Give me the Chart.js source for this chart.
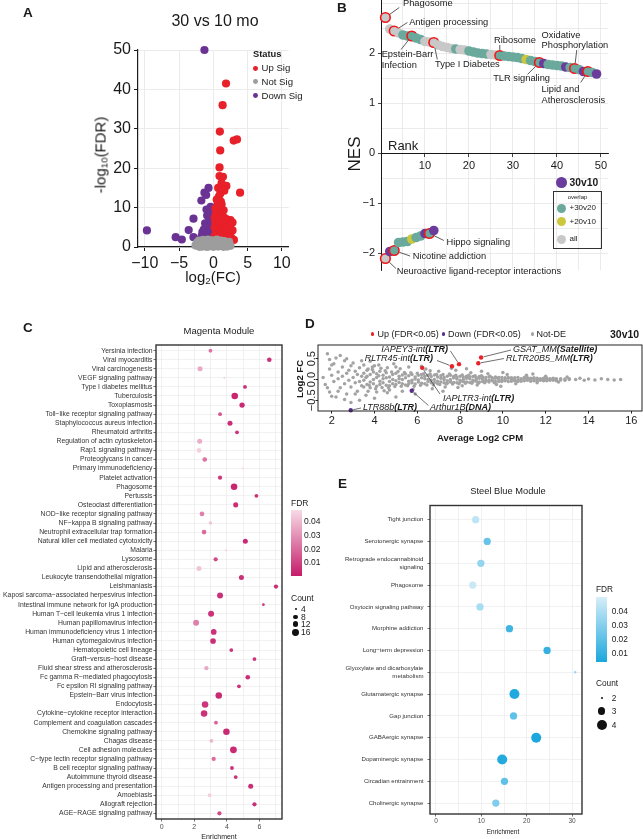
<!DOCTYPE html>
<html>
<head>
<meta charset="utf-8">
<title>Aging transcriptome figure</title>
<script src="https://cdn.jsdelivr.net/npm/chart.js@4.4.1/dist/chart.umd.min.js"></script>
<style>
  html, body { margin: 0; padding: 0; background: #fff; }
  #page { position: relative; width: 643px; height: 839px; overflow: hidden;
          font-family: "Liberation Sans", Arial, Helvetica, sans-serif; color: #1a1a1a; }
  #page canvas { position: absolute; left: 0; top: 0; }
  .txt { position: absolute; white-space: nowrap; line-height: 1; }
  .txt sub { font-size: 65%; vertical-align: -0.25em; line-height: 0; }
  .dot { position: absolute; border-radius: 50%; }
  .box { position: absolute; box-sizing: border-box; }
</style>
</head>
<body>
<div id="page"></div>
<script>
'use strict';

/* ── PANEL A: volcano 30 vs 10 mo  [log2FC, -log10 FDR] ───────── */
const aUp = [
  [1.85,41.5],[1.35,36.0],[0.95,29.3],[2.97,27.0],[3.45,27.3],[1.0,24.5],[0.9,20.2],[0.9,18.0],
  [1.4,17.8],[1.9,15.5],[3.9,13.8],[1.0,13.5],[0.7,15.0],[1.1,11.5],[3.0,1.8],[1.2,16.2],
  [1.6,14.3],[0.6,10.5],[0.5,12.0],[1.2,10.8],[0.8,12.8],[1.5,9.3],[0.3,9.8],[0.6,9.5],
  [0.4,8.5],[0.9,8.8],[1.3,8.2],[0.2,7.5],[0.7,7.2],[1.1,7.6],[1.6,7.4],[2.0,7.0],[2.5,6.8],
  [0.3,6.2],[0.8,6.0],[1.3,6.3],[1.8,6.1],[2.3,5.9],[2.8,6.2],[0.2,5.0],[0.6,4.8],[1.0,5.2],
  [1.5,5.0],[2.0,4.9],[2.5,4.7],[0.4,3.8],[0.9,3.9],[1.4,3.7],[1.9,3.8],[2.4,3.6],[2.8,4.2],
  [0.2,2.8],[0.7,2.6],[1.2,2.8],[1.7,2.7],[2.2,2.6],[0.5,1.9],[1.0,2.0],[1.5,1.8],[2.0,1.9],
  [2.6,2.4],[0.3,1.4],[0.8,1.3],[1.3,1.4],[1.8,1.5],[2.4,1.6]
];
const aDown = [
  [-1.3,50.0],[-9.7,4.2],[-0.7,15.0],[-1.3,13.8],[-1.05,13.2],[-1.75,11.8],[-0.4,10.2],[-2.9,7.2],
  [-3.6,4.3],[-5.5,2.5],[-4.6,1.9],[-2.9,2.5],[-2.3,1.7],[-0.4,8.8],[-0.9,8.0],[-0.2,7.5],
  [-0.6,6.6],[-1.2,6.0],[-0.3,5.5],[-0.8,5.0],[-1.4,4.4],[-0.2,4.2],[-0.6,3.6],[-1.1,3.2],
  [-1.7,2.8],[-0.3,2.6],[-0.8,2.2],[-1.9,2.0],[-1.3,1.8],[-0.5,1.6],[-0.2,6.8],[-1.6,3.8],
  [-1.0,9.5],[-0.3,9.4]
];
const aNotSig = [
  [-2.6,0.4],[-2.4,1.1],[-2.2,0.2],[-2.1,1.6],[-1.9,0.7],[-1.8,1.3],[-1.6,0.1],[-1.5,1.8],
  [-1.4,0.9],[-1.2,0.3],[-1.1,1.4],[-0.9,0.6],[-0.8,1.9],[-0.7,0.1],[-0.5,1.1],[-0.4,0.4],
  [-0.2,1.7],[-0.1,0.8],[0.1,0.2],[0.2,1.4],[0.4,0.7],[0.5,1.9],[0.7,0.1],[0.8,1.1],[1.0,0.5],
  [1.1,1.6],[1.3,0.2],[1.4,0.9],[1.6,1.5],[1.7,0.4],[1.9,1.1],[2.0,0.1],[2.2,0.7],[2.3,1.3],
  [2.5,0.3],[-2.0,0.05],[-1.0,0.05],[0.0,0.05],[0.9,0.9],[1.5,0.05],[-0.3,0.9],[-1.7,0.3]
];
const aXTicks = [-10, -5, 0, 5, 10];
const aYTicks = [0, 10, 20, 30, 40, 50];

/* ── PANEL B: ranked NES ─────────────────────────────────────── */
const bTopNes = [2.71,2.48,2.44,2.40,2.36,2.34,2.34,2.30,2.27,2.23,2.22,2.21,2.16,2.13,2.11,2.09,
  2.08,2.07,2.06,2.04,2.02,2.00,1.99,1.98,1.97,1.96,1.95,1.94,1.93,1.92,1.91,1.89,1.87,1.85,1.83,
  1.81,1.79,1.77,1.76,1.75,1.74,1.72,1.71,1.69,1.67,1.63,1.63,1.61,1.58];
const bTopGroup = ['all','all','all','all','30v20','30v20','30v20','30v20','30v20','all','all','all',
  'all','all','all','all','30v20','all','all','30v20','30v20','30v20','30v20','30v20','all','all',
  '30v20','30v20','30v20','30v20','30v20','30v20','20v10','30v20','30v20','30v20','30v10','30v20',
  '30v20','30v20','30v20','30v10','30v20','30v20','30v20','30v10','30v20','30v20','30v10'];
const bTopNamed = { 1: 'Phagosome', 3: 'Antigen processing', 7: 'Epstein-Barr Infection',
  12: 'Type I Diabetes', 27: 'Ribosome', 36: 'TLR signaling', 44: 'Oxidative Phosphorylation',
  47: 'Lipid and Atherosclerosis' };
const bBottomNes = [-2.11,-1.97,-1.95,-1.79,-1.78,-1.77,-1.72,-1.69,-1.66,-1.61,-1.61,-1.55];
const bBottomGroup = ['all','30v10','30v20','30v20','30v20','30v20','20v10','30v20','30v20','30v10',
  '30v20','30v10'];
const bBottomNamed = { 1: 'Neuroactive ligand-receptor interactions', 3: 'Nicotine addiction',
  11: 'Hippo signaling' };
const bXTicks = [10, 20, 30, 40, 50];
const bYTicks = [-2, -1, 0, 1, 2];

/* ── PANEL C: Magenta module KEGG enrichment ─────────────────── */
const cPathways = ['Yersinia infection','Viral myocarditis','Viral carcinogenesis',
  'VEGF signaling pathway','Type I diabetes mellitus','Tuberculosis','Toxoplasmosis',
  'Toll\u2212like receptor signaling pathway','Staphylococcus aureus infection','Rheumatoid arthritis',
  'Regulation of actin cytoskeleton','Rap1 signaling pathway','Proteoglycans in cancer',
  'Primary immunodeficiency','Platelet activation','Phagosome','Pertussis','Osteoclast differentiation',
  'NOD\u2212like receptor signaling pathway','NF\u2212kappa B signaling pathway',
  'Neutrophil extracellular trap formation','Natural killer cell mediated cytotoxicity','Malaria',
  'Lysosome','Lipid and atherosclerosis','Leukocyte transendothelial migration','Leishmaniasis',
  'Kaposi sarcoma\u2212associated herpesvirus infection','Intestinal immune network for IgA production',
  'Human T\u2212cell leukemia virus 1 infection','Human papillomavirus infection',
  'Human immunodeficiency virus 1 infection','Human cytomegalovirus infection',
  'Hematopoietic cell lineage','Graft\u2212versus\u2212host disease','Fluid shear stress and atherosclerosis',
  'Fc gamma R\u2212mediated phagocytosis','Fc epsilon RI signaling pathway','Epstein\u2212Barr virus infection',
  'Endocytosis','Cytokine\u2212cytokine receptor interaction','Complement and coagulation cascades',
  'Chemokine signaling pathway','Chagas disease','Cell adhesion molecules',
  'C\u2212type lectin receptor signaling pathway','B cell receptor signaling pathway',
  'Autoimmune thyroid disease','Antigen processing and presentation','Amoebiasis',
  'Allograft rejection','AGE\u2212RAGE signaling pathway'];
const cEnrichment = [2.99,6.6,2.35,3.84,5.11,4.48,4.93,3.58,4.19,4.62,2.33,2.29,2.64,4.97,3.58,4.44,
  5.81,4.54,2.47,2.99,2.60,5.13,3.93,3.31,2.29,4.89,7.01,3.58,6.24,3.03,2.11,3.19,3.15,4.27,5.69,
  2.74,5.28,4.74,3.50,2.66,2.60,3.33,3.97,3.05,4.40,3.19,4.31,4.54,5.46,2.94,5.69,3.54];
const cCount = [7,9,10,4,7,15,11,7,10,7,10,9,9,4,8,15,7,10,9,6,9,10,4,8,10,10,8,13,5,13,13,12,12,
  7,7,8,9,7,15,15,15,7,15,7,16,8,7,7,10,7,8,8];
const cFdr = [0.022,0.006,0.035,0.045,0.006,0.003,0.004,0.015,0.005,0.006,0.036,0.045,0.022,0.047,
  0.008,0.003,0.006,0.005,0.025,0.042,0.02,0.004,0.045,0.012,0.042,0.005,0.005,0.006,0.007,0.006,
  0.025,0.006,0.005,0.007,0.006,0.035,0.005,0.006,0.004,0.007,0.006,0.018,0.004,0.038,0.004,0.02,
  0.006,0.006,0.005,0.045,0.005,0.012];
const cXGrid = [0, 1, 2, 3, 4, 5, 6, 7];
const cXLabels = [0, 2, 4, 6];
const cFdrTicks = [0.01, 0.02, 0.03, 0.04];
const cCountKeys = [4, 8, 12, 16];

/* ── PANEL D: repeat elements MA plot ────────────────────────── */
const dUpNames = ['IAPLTR3-int', 'RLTR45-int', 'IAPEY3-int', 'RLTR20B5_MM', 'GSAT_MM'];
const dUpClass = ['LTR', 'LTR', 'LTR', 'LTR', 'Satellite'];
const dUpCpm = [6.23, 7.62, 7.95, 8.85, 8.98];
const dUpFc = [0.28, 0.32, 0.37, 0.39, 0.53];
const dDownNames = ['Arthur1B', 'LTR88b'];
const dDownClass = ['DNA', 'LTR'];
const dDownCpm = [5.74, 2.89];
const dDownFc = [-0.27, -0.74];
const dNotDe = [
  [1.6,0.05],[1.7,-0.12],[1.8,0.62],[1.9,0.25],[1.9,-0.3],[2.0,0.1],[2.1,0.38],[2.1,-0.05],
  [2.2,0.52],[2.2,-0.42],[2.3,0.18],[2.3,0.02],[2.4,-0.2],[2.5,0.3],[2.5,0.08],[2.6,-0.1],
  [2.6,0.45],[2.7,0.15],[2.7,-0.35],[2.8,0.22],[2.8,-0.02],[2.9,0.33],[2.9,-0.18],[3.0,0.05],
  [3.0,0.4],[3.1,-0.08],[3.1,0.2],[3.2,-0.28],[3.2,0.12],[3.3,0.28],[3.3,-0.05],[3.4,0.08],
  [3.4,-0.15],[3.5,0.35],[3.6,-0.38],[3.7,0.25],[3.9,0.3],[4.1,-0.3],[4.3,0.27],[4.7,-0.25],
  [5.0,0.3],[3.3,-0.5],[2.9,-0.55],[4.0,-0.45],[5.0,-0.42],[2.4,0.58],[1.9,0.48],[2.0,-0.4],
  [3.8,0.44],[2.6,-0.48],
  [3.5,0.15],[3.5,-0.02],[3.5,-0.18],[3.65,0.08],[3.65,-0.12],[3.65,0.22],[3.8,-0.06],[3.8,0.12],
  [3.8,-0.2],[3.95,0.18],[3.95,0.0],[3.95,-0.1],[4.1,0.05],[4.1,-0.16],[4.1,0.14],[4.25,-0.04],
  [4.25,0.2],[4.25,-0.12],[4.4,0.1],[4.4,-0.08],[4.4,0.02],[4.55,-0.14],[4.55,0.16],[4.55,0.04],
  [4.7,0.06],[4.7,-0.05],[4.7,-0.15],[4.85,0.12],[4.85,-0.1],[4.85,0.0],[5.0,-0.03],[5.0,0.15],
  [5.0,-0.12],[5.15,0.08],[5.15,-0.07],[5.15,0.02],[5.3,-0.1],[5.3,0.11],[5.3,0.0],[5.45,0.04],
  [5.45,-0.13],[5.45,0.13],[5.6,0.09],[5.6,-0.04],[5.6,-0.1],[5.75,-0.02],[5.75,0.12],[5.75,-0.08],
  [5.9,0.06],[5.9,-0.11],[5.9,0.01],[6.05,0.1],[6.05,-0.06],[6.05,-0.01],[6.2,-0.09],[6.2,0.04],
  [6.2,0.12],[6.35,0.02],[6.35,-0.1],[6.35,0.08],[6.5,-0.05],[6.5,0.1],[6.5,0.0],[6.65,0.07],
  [6.65,-0.08],[6.65,-0.02],[6.8,0.11],[6.8,0.0],[6.8,-0.07],[6.95,-0.04],[6.95,0.06],[6.95,-0.1],
  [7.1,0.03],[7.1,-0.06],[7.1,0.09],[7.25,-0.08],[7.25,0.05],[7.25,0.0],[7.4,0.08],[7.4,-0.03],
  [7.4,-0.09],[7.55,0.0],[7.55,0.1],[7.55,-0.06],[7.7,-0.07],[7.7,0.04],[7.7,0.07],[7.85,0.05],
  [7.85,-0.08],[7.85,0.01],[8.0,-0.02],[8.0,0.08],[8.0,-0.06],[8.15,0.06],[8.15,-0.05],[8.15,0.0],
  [8.3,-0.06],[8.3,0.03],[8.3,0.08],[8.45,0.02],[8.45,-0.07],[8.45,0.06],[8.6,0.07],[8.6,-0.02],
  [8.6,-0.05],[8.75,-0.04],[8.75,0.05],[8.75,0.0],[8.9,0.03],[8.9,-0.06],[8.9,0.07],[9.05,-0.05],
  [9.05,0.01],[9.05,0.06],[9.2,0.05],[9.2,-0.04],[9.2,-0.01],[9.35,-0.02],[9.35,0.06],[9.35,-0.06],
  [9.5,0.04],[9.5,-0.03],[9.5,0.0],[9.65,-0.05],[9.65,0.03],[9.65,0.06],[9.8,0.01],[9.8,-0.05],
  [9.8,0.05],[9.95,0.05],[9.95,-0.02],[9.95,-0.05],[10.1,-0.03],[10.1,0.04],[10.1,0.0],[10.25,0.03],
  [10.25,-0.05],[10.25,0.05],[10.4,-0.04],[10.4,0.01],[10.4,0.04],[10.55,0.04],[10.55,-0.03],
  [10.55,-0.01],[10.7,-0.02],[10.7,0.05],[10.7,-0.05],[10.85,0.02],[10.85,-0.04],[10.85,0.0],
  [11.0,-0.03],[11.0,0.03],[11.0,0.05],[11.15,0.04],[11.15,-0.02],[11.15,0.0],[11.3,-0.04],
  [11.3,0.02],[11.3,0.03],[11.45,0.01],[11.45,-0.03],[11.45,0.04],[11.6,0.03],[11.6,-0.01],
  [11.6,-0.04],[11.75,-0.02],[11.75,0.02],[11.75,0.0],[11.9,0.02],[11.9,-0.03],[11.9,0.03],
  [12.05,-0.01],[12.05,0.03],[12.05,-0.03],[12.2,0.02],[12.2,-0.02],[12.2,0.0],[12.35,-0.02],
  [12.35,0.01],[12.35,0.03],[12.5,0.0],[12.5,-0.03],[12.5,0.02],[12.7,0.02],[12.7,-0.01],
  [12.9,-0.02],[12.9,0.01],[13.1,0.0],[13.1,0.02],
  [4.2,0.35],[4.6,-0.32],[4.9,0.38],[5.3,-0.28],[5.6,0.3],[5.9,-0.35],[6.4,0.25],[6.7,-0.22],
  [7.0,0.2],[7.3,-0.18],[7.8,0.22],[8.1,-0.15],[8.5,0.16],[8.8,-0.13],[9.3,0.14],[9.7,-0.12],
  [10.2,0.12],[10.6,-0.1],[11.1,0.1],[11.6,-0.08],[12.0,0.08],[12.6,-0.06],[13.0,0.06],[6.2,0.32],
  [7.6,0.27],[9.0,0.2],[8.3,0.26],[7.2,-0.28],[10.0,0.17],[9.9,-0.16],[11.4,0.13],
  [13.4,0.0],[13.6,0.03],[13.8,-0.02],[14.0,0.01],[14.3,-0.01],[14.6,0.02],[14.9,0.0],
  [15.2,-0.01],[15.5,0.0],
  [3.6,0.05],[3.75,-0.14],[3.9,0.24],[4.05,-0.22],[4.2,0.09],[4.35,-0.19],[4.5,0.21],[4.65,-0.2],
  [4.8,0.18],[4.95,-0.17],[5.1,0.19],[5.25,-0.16],[5.4,0.17],[5.55,-0.15],[5.7,0.16],[5.85,-0.16],
  [6.0,0.15],[6.15,-0.14],[6.3,0.14],[6.45,-0.13],[6.6,0.13],[6.75,-0.13],[6.9,0.12],[7.05,-0.12],
  [7.2,0.12],[7.35,-0.11],[7.5,0.13],[7.65,-0.11],[7.8,0.1],[7.95,-0.1],[8.1,0.11],[8.25,-0.09],
  [8.4,0.1],[8.55,-0.09],[8.7,0.09],[8.85,-0.09],[9.0,0.09],[9.15,-0.08],[9.4,0.08],[9.6,-0.08],
  [4.0,0.33],[4.45,-0.27],[5.2,0.26],[5.8,-0.24],[6.6,0.21],[7.9,-0.19],[3.4,0.45],[2.3,-0.28],
  [2.0,0.35],[1.8,-0.2],[2.7,0.5],[3.1,-0.35],[3.7,-0.28],[4.6,0.28]
];
const dXTicks = [2, 4, 6, 8, 10, 12, 14, 16];
const dYTicks = [-0.5, 0, 0.5];

/* ── PANEL E: Steel Blue module KEGG enrichment ──────────────── */
const ePathways = ['Tight junction', 'Serotonergic synapse', ['Retrograde endocannabinoid', 'signaling'],
  'Phagosome', 'Oxytocin signaling pathway', 'Morphine addiction', 'Long\u2212term depression',
  ['Glyoxylate and dicarboxylate', 'metabolism'], 'Glutamatergic synapse', 'Gap junction',
  'GABAergic synapse', 'Dopaminergic synapse', 'Circadian entrainment', 'Cholinergic synapse'];
const eEnrichment = [8.75, 11.3, 9.9, 8.1, 9.7, 16.2, 24.5, 30.7, 17.3, 17.1, 22.1, 14.6, 15.1, 13.2];
const eCount = [3, 3, 3, 3, 3, 3, 3, 2, 4, 3, 4, 4, 3, 3];
const eFdr = [0.044, 0.022, 0.033, 0.047, 0.038, 0.012, 0.009, 0.035, 0.004, 0.02, 0.003, 0.005, 0.02, 0.028];
const eXGrid = [0, 5, 10, 15, 20, 25, 30];
const eXLabels = [0, 10, 20, 30];
const eFdrTicks = [0.01, 0.02, 0.03, 0.04];
const eCountKeys = [2, 3, 4];

/* ── STYLE ───────────────────────────────────────────────────── */
const FONT = '"Liberation Sans", Arial, Helvetica, sans-serif';
const PAGE_W = 643, PAGE_H = 839;
const RED = '#e8202a', PURPLE = '#6a3393', GREY = '#9d9d9d';
const bGroupColor = { '30v10': '#6b3c9b', '30v20': '#6aa99c', '20v10': '#cdc73c', 'all': '#c8c8c8' };
const C_LOW = [197, 27, 106], C_HIGH = [247, 219, 230], C_DOMAIN = [0.0003, 0.0477];
const E_LOW = [28, 167, 221], E_HIGH = [214, 238, 249], E_DOMAIN = [0.003, 0.05];

Chart.defaults.font.family = FONT;
Chart.defaults.color = '#1a1a1a';

const page = document.getElementById('page');

function makeCanvas() {
  const c = document.createElement('canvas');
  c.width = PAGE_W; c.height = PAGE_H;
  page.appendChild(c);
  return c;
}

// chart area [left, top, right, bottom] in page pixels -> layout padding
function areaPadding(box, yW, xH) {
  return { left: box[0] - yW, top: box[1], right: PAGE_W - box[2], bottom: PAGE_H - box[3] - xH };
}
function fitTo(size) {
  return s => {
    if (s.isHorizontal()) s.height = size; else s.width = size;
    s.paddingLeft = s.paddingRight = s.paddingTop = s.paddingBottom = 0;
  };
}
function fixedTicks(values) {
  return s => { s.ticks = values.map(v => ({ value: v })); };
}
function minus(v) { return String(v).replace('-', '\u2212'); }

function mix(lo, hi, t) {
  t = Math.max(0, Math.min(1, t));
  return 'rgb(' + lo.map((v, i) => Math.round(v + (hi[i] - v) * t)).join(',') + ')';
}
function fdrColor(lo, hi, dom) {
  return f => mix(lo, hi, (f - dom[0]) / (dom[1] - dom[0]));
}
function areaSize(cMin, cMax, rMin, rMax) {
  return c => Math.sqrt(rMin * rMin + (c - cMin) / (cMax - cMin) * (rMax * rMax - rMin * rMin));
}

/* ── HTML TEXT HELPERS ───────────────────────────────────────── */
function addText(html, x, y, font, align, extra) {
  const d = document.createElement('div');
  d.className = 'txt';
  d.innerHTML = html;
  d.style.font = font;
  d.style.lineHeight = '1';
  d.style.left = x + 'px';
  d.style.top = y + 'px';
  const tx = align === 'center' ? '-50%' : align === 'right' ? '-100%' : '0';
  d.style.transform = `translate(${tx}, -50%)` + (extra || '');
  page.appendChild(d);
}
function addDot(x, y, r, color) {
  const d = document.createElement('div');
  d.className = 'dot';
  Object.assign(d.style, { left: (x - r) + 'px', top: (y - r) + 'px', width: 2 * r + 'px', height: 2 * r + 'px', background: color });
  page.appendChild(d);
}
function addBox(x, y, w, h, css) {
  const d = document.createElement('div');
  d.className = 'box';
  Object.assign(d.style, { left: x + 'px', top: y + 'px', width: w + 'px', height: h + 'px' }, css);
  page.appendChild(d);
}

/* ── PLUGINS ─────────────────────────────────────────────────── */
const framePlugin = {
  id: 'frame',
  afterDraw(chart, args, opts) {
    if (!opts || !opts.color) return;
    const { left, top, right, bottom } = chart.chartArea;
    const ctx = chart.ctx;
    ctx.save();
    ctx.strokeStyle = opts.color;
    ctx.lineWidth = opts.width || 1;
    ctx.strokeRect(left, top, right - left, bottom - top);
    ctx.restore();
  }
};

function drawRuns(ctx, runs, x, y, align) {
  const widths = runs.map(r => { ctx.font = r.font; return ctx.measureText(r.text).width; });
  const total = widths.reduce((a, b) => a + b, 0);
  let cx = align === 'right' ? x - total : x;
  ctx.textAlign = 'left';
  ctx.textBaseline = 'middle';
  runs.forEach((r, i) => { ctx.font = r.font; ctx.fillText(r.text, cx, y); cx += widths[i]; });
}

const calloutPlugin = {
  id: 'callouts',
  afterDatasetsDraw(chart, args, opts) {
    if (!opts || !opts.items) return;
    const xs = chart.scales.x, ys = chart.scales.y, ctx = chart.ctx;
    ctx.save();
    ctx.fillStyle = opts.textColor;
    opts.items.forEach(it => {
      const px = xs.getPixelForValue(it.x), py = ys.getPixelForValue(it.y);
      const ax = xs.getPixelForValue(it.ax), ay = ys.getPixelForValue(it.ay);
      const dx = px - ax, dy = py - ay, d = Math.hypot(dx, dy) || 1, gap = opts.gap || 0;
      ctx.strokeStyle = opts.lineColor;
      ctx.lineWidth = opts.lineWidth;
      ctx.beginPath();
      ctx.moveTo(ax, ay);
      ctx.lineTo(px - dx / d * gap, py - dy / d * gap);
      ctx.stroke();
      const tx = xs.getPixelForValue(it.lx), ty = ys.getPixelForValue(it.ly);
      it.lines.forEach((ln, i) => {
        const runs = typeof ln === 'string' ? [{ text: ln, font: opts.font }] : ln;
        drawRuns(ctx, runs, tx, ty + i * opts.lineHeight, it.align);
      });
    });
    ctx.restore();
  }
};
Chart.register(framePlugin, calloutPlugin);

const baseOptions = () => ({
  responsive: false,
  animation: false,
  events: [],
  plugins: { legend: { display: false }, tooltip: { enabled: false } },
});

/* ── PANEL A ─────────────────────────────────────────────────── */
const aBox = [138, 50, 288.7, 247];
new Chart(makeCanvas(), {
  type: 'scatter',
  data: {
    datasets: [
      { data: aNotSig.map(p => ({ x: p[0], y: p[1] })), pointBackgroundColor: GREY },
      { data: aUp.map(p => ({ x: p[0], y: p[1] })), pointBackgroundColor: RED },
      { data: aDown.map(p => ({ x: p[0], y: p[1] })), pointBackgroundColor: PURPLE },
    ].map(ds => Object.assign(ds, { pointRadius: 4.1, pointBorderWidth: 0, clip: false }))
  },
  options: Object.assign(baseOptions(), {
    layout: { padding: areaPadding(aBox, 40, 30), autoPadding: false },
    scales: {
      x: {
        type: 'linear', min: -11, max: 11,
        afterBuildTicks: fixedTicks(aXTicks), afterFit: fitTo(30),
        grid: { color: '#ebebeb', lineWidth: 1, tickColor: '#1a1a1a', tickLength: 4 },
        border: { color: '#1a1a1a', width: 1.2 },
        ticks: { font: { size: 16 }, color: '#1a1a1a', padding: 3, callback: v => minus(v) }
      },
      y: {
        type: 'linear', min: 0, max: 50,
        afterBuildTicks: fixedTicks(aYTicks), afterFit: fitTo(40),
        grid: { color: '#ebebeb', lineWidth: 1, tickColor: '#1a1a1a', tickLength: 4 },
        border: { color: '#1a1a1a', width: 1.2 },
        ticks: { font: { size: 16 }, color: '#1a1a1a', padding: 3 }
      }
    }
  })
});

/* ── PANEL B ─────────────────────────────────────────────────── */
const bBox = [381, 0, 608, 270];
const bRingColor = '#f01818';
function bSeries(nes, groups, named) {
  return {
    data: nes.map((v, i) => ({ x: i + 1, y: v })),
    pointRadius: 4.8,
    pointBackgroundColor: c => bGroupColor[groups[c.dataIndex]],
    pointBorderColor: c => named[c.dataIndex + 1] ? bRingColor : bGroupColor[groups[c.dataIndex]],
    pointBorderWidth: c => named[c.dataIndex + 1] ? 1.6 : 0,
    clip: false
  };
}
const bCallouts = [
  { name: 'Phagosome', lines: ['Phagosome'], lx: 5.0, ly: 2.99, ax: 4.16, ay: 2.91 },
  { name: 'Antigen processing', lines: ['Antigen processing'], lx: 6.4, ly: 2.61, ax: 6.0, ay: 2.61 },
  { name: 'Epstein-Barr Infection', lines: ['Epstein-Barr', 'Infection'], lx: 0.15, ly: 1.97, ax: 4.55, ay: 2.07 },
  { name: 'Type I Diabetes', lines: ['Type I Diabetes'], lx: 12.3, ly: 1.78, ax: 12.8, ay: 1.87 },
  { name: 'Ribosome', lines: ['Ribosome'], lx: 25.7, ly: 2.26, ax: 27.0, ay: 2.16 },
  { name: 'Oxidative Phosphorylation', lines: ['Oxidative', 'Phosphorylation'], lx: 36.5, ly: 2.36, ax: 44.5, ay: 2.06 },
  { name: 'TLR signaling', lines: ['TLR signaling'], lx: 25.5, ly: 1.49, ax: 33.3, ay: 1.57 },
  { name: 'Lipid and Atherosclerosis', lines: ['Lipid and', 'Atherosclerosis'], lx: 36.5, ly: 1.27, ax: 45.4, ay: 1.41 },
  { name: 'Hippo signaling', lines: ['Hippo signaling'], lx: 14.9, ly: -1.79, ax: 14.3, ay: -1.75 },
  { name: 'Nicotine addiction', lines: ['Nicotine addiction'], lx: 7.2, ly: -2.07, ax: 6.6, ay: -2.06 },
  { name: 'Neuroactive ligand-receptor interactions', lines: ['Neuroactive ligand-receptor interactions'], lx: 3.57, ly: -2.37, ax: 3.4, ay: -2.31 },
];
function bLocate(name) {
  for (const [rank, n] of Object.entries(bTopNamed)) if (n === name) return { x: +rank, y: bTopNes[rank - 1] };
  for (const [rank, n] of Object.entries(bBottomNamed)) if (n === name) return { x: +rank, y: bBottomNes[rank - 1] };
  return { x: 0, y: 0 };
}
new Chart(makeCanvas(), {
  type: 'scatter',
  data: { datasets: [bSeries(bTopNes, bTopGroup, bTopNamed), bSeries(bBottomNes, bBottomGroup, bBottomNamed)] },
  options: Object.assign(baseOptions(), {
    layout: { padding: areaPadding(bBox, 20, 0), autoPadding: false },
    plugins: {
      legend: { display: false }, tooltip: { enabled: false },
      callouts: {
        items: bCallouts.map(c => Object.assign({ align: 'left' }, c, bLocate(c.name))),
        font: `9.3px ${FONT}`, textColor: '#1a1a1a', lineColor: '#333', lineWidth: 0.8,
        lineHeight: 10.5, gap: 5.5
      }
    },
    scales: {
      x: {
        type: 'linear', min: 0, max: 51.6, position: { y: 0 },
        afterBuildTicks: fixedTicks([0, 5, 10, 15, 20, 25, 30, 35, 40, 45, 50]), afterFit: fitTo(0),
        grid: { color: '#e6e6e6', lineWidth: 0.8, tickLength: 3,
                tickColor: c => bXTicks.includes(c.tick.value) ? '#1a1a1a' : 'rgba(0,0,0,0)' },
        border: { color: '#1a1a1a', width: 1 },
        ticks: { font: { size: 11 }, color: '#1a1a1a', padding: 3, autoSkip: false,
                 callback: v => bXTicks.includes(v) ? String(v) : '' }
      },
      y: {
        type: 'linear', min: -2.34, max: 3.06,
        afterBuildTicks: fixedTicks([-2, -1.5, -1, -0.5, 0, 0.5, 1, 1.5, 2, 2.5, 3]), afterFit: fitTo(20),
        grid: { color: '#e6e6e6', lineWidth: 0.8, tickLength: 3,
                tickColor: c => bYTicks.includes(c.tick.value) ? '#1a1a1a' : 'rgba(0,0,0,0)' },
        border: { color: '#1a1a1a', width: 1 },
        ticks: { font: { size: 11 }, color: '#1a1a1a', padding: 3, autoSkip: false,
                 callback: v => bYTicks.includes(v) ? minus(v) : '' }
      }
    }
  })
});

/* ── DOT PLOTS (C, E) ────────────────────────────────────────── */
function dotPlot(o) {
  return new Chart(makeCanvas(), {
    type: 'scatter',
    data: {
      datasets: [{
        data: o.enrich.map((e, i) => ({ x: e, y: i })),
        pointRadius: c => o.radius(o.count[c.dataIndex]),
        pointBackgroundColor: c => o.color(o.fdr[c.dataIndex]),
        pointBorderWidth: 0,
        clip: false
      }]
    },
    options: Object.assign(baseOptions(), {
      layout: { padding: areaPadding(o.box, o.yW, o.xH), autoPadding: false },
      plugins: { legend: { display: false }, tooltip: { enabled: false }, frame: { color: '#333', width: 1.4 } },
      scales: {
        x: {
          type: 'linear', min: o.xMin, max: o.xMax,
          afterBuildTicks: fixedTicks(o.xGrid), afterFit: fitTo(o.xH),
          grid: { color: '#ebebeb', lineWidth: 0.7, tickLength: 2.5,
                  tickColor: c => o.xLabels.includes(c.tick.value) ? '#333' : 'rgba(0,0,0,0)' },
          border: { display: false },
          ticks: { font: { size: o.tickFont }, color: '#4d4d4d', padding: 1, autoSkip: false,
                   callback: v => o.xLabels.includes(v) ? String(v) : '' }
        },
        y: {
          type: 'linear', reverse: true, min: o.yMin, max: o.cats.length - 1 + o.yPadEnd,
          afterBuildTicks: fixedTicks(o.cats.map((_, i) => i)), afterFit: fitTo(o.yW),
          grid: { color: '#ebebeb', lineWidth: 0.7, tickLength: 2.5, tickColor: '#333' },
          border: { display: false },
          ticks: { font: { size: o.labelFont, lineHeight: 1.25 }, color: '#333', padding: o.yPad, autoSkip: false,
                   callback: v => o.cats[v] }
        }
      }
    })
  });
}

const cRadius = areaSize(4, 16, 1, 3.4);
const cColor = fdrColor(C_LOW, C_HIGH, C_DOMAIN);
dotPlot({
  box: [156, 345, 282, 819], yW: 156, xH: 12, yPad: 1,
  enrich: cEnrichment, count: cCount, fdr: cFdr, cats: cPathways,
  radius: cRadius, color: cColor,
  xMin: -0.35, xMax: 7.38, yMin: -0.62, yPadEnd: 0.62,
  xGrid: cXGrid, xLabels: cXLabels, tickFont: 7, labelFont: 6.8
});

const eRadius = areaSize(2, 4, 1.2, 5.0);
const eColor = fdrColor(E_LOW, E_HIGH, E_DOMAIN);
dotPlot({
  box: [430, 505.5, 582, 814], yW: 110, xH: 10, yPad: 4,
  enrich: eEnrichment, count: eCount, fdr: eFdr, cats: ePathways,
  radius: eRadius, color: eColor,
  xMin: -1.32, xMax: 32.2, yMin: -0.65, yPadEnd: 0.5,
  xGrid: eXGrid, xLabels: eXLabels, tickFont: 6.5, labelFont: 6.1
});

/* ── PANEL D ─────────────────────────────────────────────────── */
const dBox = [318, 345, 642, 411];
const dItalic = `italic 9px ${FONT}`, dBold = `italic bold 9px ${FONT}`;
const dCalloutLayout = {
  'IAPEY3-int':  { lx: 7.44, ly: 0.733, ax: 7.55, ay: 0.685, align: 'right' },
  'RLTR45-int':  { lx: 6.73, ly: 0.517, ax: 6.92, ay: 0.457, align: 'right' },
  'GSAT_MM':     { lx: 10.47, ly: 0.733, ax: 10.38, ay: 0.709, align: 'left' },
  'RLTR20B5_MM': { lx: 10.15, ly: 0.505, ax: 10.05, ay: 0.505, align: 'left' },
  'IAPLTR3-int': { lx: 7.2, ly: -0.445, ax: 7.06, ay: -0.349, align: 'left' },
  'Arthur1B':    { lx: 6.59, ly: -0.673, ax: 6.52, ay: -0.625, align: 'left' },
  'LTR88b':      { lx: 3.46, ly: -0.673, ax: 3.37, ay: -0.685, align: 'left' },
};
const dItems = [];
dUpNames.forEach((n, i) => dItems.push(Object.assign({ x: dUpCpm[i], y: dUpFc[i],
  lines: [[{ text: n, font: dItalic }, { text: `(${dUpClass[i]})`, font: dBold }]] }, dCalloutLayout[n])));
dDownNames.forEach((n, i) => dItems.push(Object.assign({ x: dDownCpm[i], y: dDownFc[i],
  lines: [[{ text: n, font: dItalic }, { text: `(${dDownClass[i]})`, font: dBold }]] }, dCalloutLayout[n])));

new Chart(makeCanvas(), {
  type: 'scatter',
  data: {
    datasets: [
      { data: dUpCpm.map((x, i) => ({ x, y: dUpFc[i] })), pointBackgroundColor: '#e8232b', pointRadius: 2.2 },
      { data: dDownCpm.map((x, i) => ({ x, y: dDownFc[i] })), pointBackgroundColor: '#5a2d8c', pointRadius: 2.2 },
      { data: dNotDe.map(p => ({ x: p[0], y: p[1] })), pointBackgroundColor: '#a3a3a3', pointRadius: 1.75 },
    ].map(ds => Object.assign(ds, { pointBorderWidth: 0, clip: false }))
  },
  options: Object.assign(baseOptions(), {
    layout: { padding: areaPadding(dBox, 20, 20), autoPadding: false },
    plugins: {
      legend: { display: false }, tooltip: { enabled: false },
      frame: { color: '#222', width: 1 },
      callouts: { items: dItems, textColor: '#1a1a1a', lineColor: '#333', lineWidth: 0.7, lineHeight: 10, gap: 2.5 }
    },
    scales: {
      x: {
        type: 'linear', min: 1.36, max: 16.5,
        afterBuildTicks: fixedTicks(dXTicks), afterFit: fitTo(20),
        grid: { drawOnChartArea: false, color: 'rgba(0,0,0,0)', tickColor: '#222', tickLength: 2.5 },
        border: { display: false },
        ticks: { font: { size: 11 }, color: '#222', padding: 1 }
      },
      y: {
        type: 'linear', min: -0.757, max: 0.83,
        afterBuildTicks: fixedTicks(dYTicks), afterFit: fitTo(20),
        grid: { drawOnChartArea: false, color: 'rgba(0,0,0,0)', tickColor: '#222', tickLength: 2.5 },
        border: { display: false },
        ticks: { font: { size: 11 }, color: '#222', padding: -7, minRotation: 90, maxRotation: 90,
                 crossAlign: 'center', callback: v => minus(v.toFixed(1)) }
      }
    }
  })
});

/* ── TEXT, LEGENDS, COLOUR BARS ──────────────────────────────── */
const F = s => `${s} ${FONT}`;

// panel letters
addText('A', 23, 12.5, F('bold 13.5px'), 'left');
addText('B', 337, 7.5, F('bold 13.5px'), 'left');
addText('C', 23, 327.5, F('bold 13.5px'), 'left');
addText('D', 305, 324, F('bold 13.5px'), 'left');
addText('E', 338, 484, F('bold 13.5px'), 'left');

// A
addText('30 vs 10 mo', 215, 21, F('16px'), 'center');
addText('log<sub>2</sub>(FC)', 213, 276, F('15px'), 'center');
addText('-log<sub>10</sub>(FDR)', 100, 155, F('15px'), 'center', ' rotate(-90deg)');
addText('Status', 253, 55, F('bold 9.3px'), 'left');
[['Up Sig', RED, 68.3], ['Not Sig', GREY, 81.7], ['Down Sig', PURPLE, 95.7]].forEach(([t, c, y]) => {
  addDot(255.7, y, 2.4, c);
  addText(t, 261.5, y, F('9.6px'), 'left');
});

// B
addText('NES', 354, 154, F('17px'), 'center', ' rotate(-90deg)');
addText('Rank', 388, 145, F('13px'), 'left');
addDot(561.7, 182.7, 5.3, bGroupColor['30v10']);
addText('30v10', 569.5, 183, F('bold 10.3px'), 'left');
addBox(553, 190.5, 49, 58, { border: '1px solid #333' });
addText('overlap', 577.5, 197, F('6px'), 'center');
[['+30v20', '30v20', 208.3], ['+20v10', '20v10', 221.7], ['all', 'all', 239.3]].forEach(([t, g, y]) => {
  addDot(561.7, y, 4.6, bGroupColor[g]);
  addText(t, 569.5, y, F('8px'), 'left');
});

// C
addText('Magenta Module', 219, 331, F('9.5px'), 'center');
addText('Enrichment', 219, 836, F('7px'), 'center');
addText('FDR', 291, 503, F('8.5px'), 'left');
addBox(291, 510, 11, 66, { background: `linear-gradient(to bottom, ${mix(C_LOW, C_HIGH, 1)}, ${mix(C_LOW, C_HIGH, 0)})` });
cFdrTicks.forEach(f => addText(f.toFixed(2), 304, 576 - (f - C_DOMAIN[0]) / (C_DOMAIN[1] - C_DOMAIN[0]) * 66, F('8.5px'), 'left'));
addText('Count', 291, 598.3, F('8.5px'), 'left');
[609.3, 616.7, 624, 632.3].forEach((y, i) => {
  addDot(295.5, y, cRadius(cCountKeys[i]), '#111');
  addText(String(cCountKeys[i]), 301, y, F('8.5px'), 'left');
});

// D
[[372.7, '#e8232b', 'Up (FDR&lt;0.05)', 377.5], [443.3, '#5a2d8c', 'Down (FDR&lt;0.05)', 448], [532.3, '#a6a6a6', 'Not-DE', 536.5]]
  .forEach(([x, c, t, tx]) => { addDot(x, 334, 1.6, c); addText(t, tx, 334, F('9px'), 'left'); });
addText('30v10', 610, 333.5, F('bold 10.5px'), 'left');
addText('Log2 FC', 300, 379, F('bold 9.5px'), 'center', ' rotate(-90deg)');
addText('Average Log2 CPM', 480, 437.5, F('bold 9.5px'), 'center');

// E
addText('Steel Blue Module', 508, 492, F('9.3px'), 'center');
addText('Enrichment', 503, 832, F('6.4px'), 'center');
addText('FDR', 596, 589, F('8.3px'), 'left');
addBox(596, 596.7, 11.3, 65.6, { background: `linear-gradient(to bottom, ${mix(E_LOW, E_HIGH, 1)}, ${mix(E_LOW, E_HIGH, 0)})` });
eFdrTicks.forEach(f => addText(f.toFixed(2), 611.7, 662.3 - (f - E_DOMAIN[0]) / (E_DOMAIN[1] - E_DOMAIN[0]) * 65.6, F('8.3px'), 'left'));
addText('Count', 596, 683.3, F('8.3px'), 'left');
[698.3, 711, 725].forEach((y, i) => {
  addDot(601.7, y, eRadius(eCountKeys[i]), '#111');
  addText(String(eCountKeys[i]), 611.7, y, F('8.3px'), 'left');
});
</script>
</body>
</html>
